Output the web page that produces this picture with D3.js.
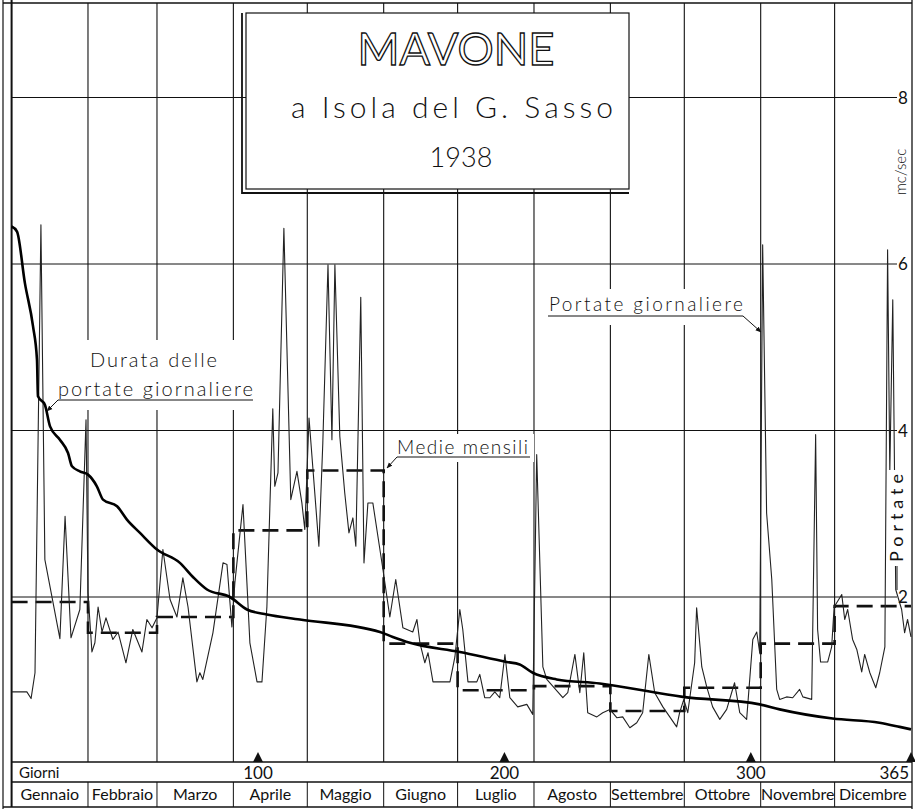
<!DOCTYPE html>
<html><head><meta charset="utf-8">
<script src="https://cdn.jsdelivr.net/npm/d3@7"></script>
<style>
html,body{margin:0;padding:0;background:#fff;}
svg{display:block;}
text{font-family:"Lato","Open Sans","DejaVu Sans",sans-serif;fill:#111;}
</style></head><body>
<svg id="c" width="915" height="809"></svg>
<script>
// ---------- DATA ----------
const monthNames = ["Gennaio","Febbraio","Marzo","Aprile","Maggio","Giugno","Luglio","Agosto","Settembre","Ottobre","Novembre","Dicembre"];
const monthStarts = [0,31,59,90,120,151,181,212,243,273,304,334,365];
const monthlyMeans = [1.94,1.57,1.76,2.80,3.52,1.44,0.88,0.93,0.63,0.91,1.44,1.89];
const dayTicks = [100,200,300,365];
const flowTicks = [2,4,6,8];
// daily discharge (day of year, m3/s) – vertices
const dailyFlow = [[0,0.86],[6.2,0.86],[7.9,0.78],[9.5,1.09],[11.9,6.47],[13.5,2.45],[19.6,1.50],[21.7,2.97],[24.1,1.51],[27.7,1.85],[30.2,4.13],[31.0,2.05],[32.6,1.34],[33.8,1.45],[35.1,1.88],[36.7,1.58],[38.3,1.75],[41.1,1.49],[43.2,1.58],[46.4,1.21],[49.2,1.61],[52.9,1.34],[54.9,1.73],[57.0,1.63],[59.0,1.75],[61.4,2.57],[64.3,1.97],[67.1,1.76],[69.5,2.23],[71.6,1.88],[75.2,0.98],[76.4,1.09],[77.6,1.01],[81.7,1.57],[85.8,2.41],[87.4,2.39],[89.4,1.64],[90.6,2.17],[93.9,3.11],[95.5,2.17],[96.7,1.45],[99.6,0.98],[101.6,0.98],[103.6,1.88],[106.0,4.26],[106.8,3.33],[108.1,3.49],[110.5,6.43],[113.3,3.17],[115.8,3.51],[117.8,3.13],[119.0,2.81],[120.7,4.15],[124.7,2.61],[126.3,3.85],[128.4,5.99],[130.0,3.89],[131.2,5.99],[133.2,3.93],[135.2,3.25],[136.9,2.77],[138.5,2.95],[139.7,2.61],[141.7,5.60],[143.0,2.41],[144.6,3.13],[146.6,3.13],[150.7,2.33],[153.5,1.76],[155.9,2.21],[158.8,1.63],[162.8,1.58],[164.5,1.73],[165.7,1.45],[167.7,1.21],[169.0,1.33],[171.0,0.98],[177.9,0.98],[179.9,1.28],[181.9,1.85],[183.1,1.61],[185.2,0.98],[188.8,0.98],[190.0,1.07],[192.0,0.79],[194.1,0.79],[196.1,0.86],[198.1,0.79],[200.2,1.31],[202.2,0.79],[205.4,0.68],[209.1,0.71],[211.5,0.59],[213.1,3.71],[215.6,1.16],[217.2,1.01],[223.7,0.79],[225.7,0.85],[228.6,1.31],[230.6,0.85],[232.2,1.33],[233.8,0.61],[237.5,0.56],[239.9,0.61],[242.8,0.65],[245.6,0.55],[248.0,0.56],[250.9,0.43],[253.7,0.49],[256.1,0.61],[258.6,1.31],[261.0,0.85],[264.3,0.68],[267.1,0.56],[269.9,0.44],[271.1,0.61],[272.8,0.77],[274.4,0.61],[277.2,1.21],[278.0,1.87],[280.1,1.16],[282.1,0.92],[284.5,0.68],[287.4,0.53],[290.2,0.65],[293.4,0.97],[295.5,0.61],[298.3,0.53],[300.8,1.49],[302.4,1.58],[303.6,1.33],[304.8,6.23],[306.4,3.01],[308.5,2.21],[310.5,0.89],[311.7,0.77],[314.5,0.80],[317.0,0.79],[319.8,0.89],[321.1,0.80],[324.7,0.77],[326.3,3.95],[327.1,1.61],[328.3,1.22],[331.2,1.22],[332.8,1.40],[333.8,1.88],[336.9,2.03],[338.1,1.73],[339.3,1.85],[341.3,1.49],[343.0,1.37],[345.0,1.10],[346.2,1.31],[348.3,1.09],[350.7,0.91],[352.3,1.09],[354.4,1.40],[355.5,6.17],[356.4,3.50],[357.6,5.57],[358.8,2.09],[361.2,1.85],[362.4,1.57],[363.6,1.73],[365,1.52]];
// flow-duration curve (days exceeded, m3/s)
const durationFlow = [[0,6.45],[2.2,6.39],[5.4,5.77],[8.7,5.25],[10.3,4.85],[10.7,4.41],[13.5,4.31],[15.6,4.05],[19.6,3.89],[22.9,3.73],[24.5,3.57],[27.7,3.51],[31,3.47],[34.6,3.33],[37.1,3.17],[42.8,3.09],[46.8,2.93],[52.1,2.77],[59,2.57],[68.3,2.41],[73.6,2.24],[79.3,2.09],[88.6,2.0],[95.5,1.85],[103.6,1.79],[117,1.73],[149.5,1.58],[154.7,1.52],[161.6,1.45],[181.9,1.34],[200.9,1.22],[206.2,1.19],[211.5,1.09],[221.2,1.01],[238.7,0.96],[243.6,0.94],[272.4,0.80],[303.6,0.71],[311.7,0.65],[333.2,0.54],[352.2,0.49],[360.4,0.44],[365,0.41]];

// ---------- CHART ----------
const svg = d3.select("#c");
const x = d3.scaleLinear().domain([0,365]).range([11.6,911]);
const y = d3.scaleLinear().domain([0,8]).range([763.5,97.5]);
const plotTop = 3, plotBottom = 762, rightEdge = 912;
const ink = "#111";

// frame
svg.append("line").attr("x1",3).attr("x2",3).attr("y1",0).attr("y2",809).attr("stroke",ink).attr("stroke-width",1.2);
svg.append("line").attr("x1",x(0)).attr("x2",x(0)).attr("y1",0).attr("y2",807).attr("stroke",ink).attr("stroke-width",2);
svg.append("line").attr("x1",rightEdge).attr("x2",rightEdge).attr("y1",0).attr("y2",809).attr("stroke",ink).attr("stroke-width",1.3);
svg.append("line").attr("x1",3).attr("x2",rightEdge).attr("y1",plotTop).attr("y2",plotTop).attr("stroke",ink).attr("stroke-width",1.3);

// horizontal grid
svg.selectAll(".hg").data(flowTicks).enter().append("line")
  .attr("x1",x(0)).attr("x2",897).attr("y1",d=>y(d)).attr("y2",d=>y(d))
  .attr("stroke",ink).attr("stroke-width",1);
// vertical month grid
svg.selectAll(".vg").data(monthStarts.slice(1,12)).enter().append("line")
  .attr("x1",d=>x(d)).attr("x2",d=>x(d)).attr("y1",plotTop).attr("y2",plotBottom)
  .attr("stroke",ink).attr("stroke-width",1.1);

// label backgrounds (white patches interrupting the grid)
const bg = [[55,340,200,70],[392,434,142,28],[545,289,202,36]];
svg.selectAll(".bg").data(bg).enter().append("rect")
  .attr("x",d=>d[0]).attr("y",d=>d[1]).attr("width",d=>d[2]).attr("height",d=>d[3]).attr("fill","#fff");

// monthly means (dashed step)
const stepPts = monthlyMeans.map((m,i)=>[monthStarts[i],m]).concat([[365,monthlyMeans[11]]]);
svg.append("path").datum(stepPts)
  .attr("d",d3.line().x(d=>x(d[0])).y(d=>y(d[1])).curve(d3.curveStepAfter))
  .attr("fill","none").attr("stroke",ink).attr("stroke-width",2.6).attr("stroke-dasharray","16,8");

// daily discharge
svg.append("path").datum(dailyFlow)
  .attr("d",d3.line().x(d=>x(d[0])).y(d=>y(d[1])))
  .attr("fill","none").attr("stroke","#222").attr("stroke-width",1.1).attr("stroke-linejoin","round");

// duration curve
svg.append("path").datum(durationFlow)
  .attr("d",d3.line().x(d=>x(d[0])).y(d=>y(d[1])).curve(d3.curveMonotoneX))
  .attr("fill","none").attr("stroke","#000").attr("stroke-width",2.6);

// title box
const tb = svg.append("g");
tb.append("rect").attr("x",246).attr("y",13).attr("width",383).attr("height",176).attr("fill","#fff").attr("stroke",ink).attr("stroke-width",1.2);
tb.append("path").attr("d","M242,13 V193 H629").attr("fill","none").attr("stroke",ink).attr("stroke-width",1.8);
tb.append("text").attr("x",456).attr("y",65).attr("text-anchor","middle").attr("font-size",45)
  .attr("textLength",197).attr("lengthAdjust","spacingAndGlyphs")
  .style("fill","#fff").attr("stroke","#111").attr("stroke-width",1.3).text("MAVONE");
tb.append("text").attr("x",452).attr("y",118).attr("text-anchor","middle").attr("font-size",30).attr("font-weight",300)
  .attr("textLength",322).attr("lengthAdjust","spacing").text("a Isola del G. Sasso");
tb.append("text").attr("x",461).attr("y",167).attr("text-anchor","middle").attr("font-size",27).attr("font-weight",300)
  .attr("textLength",63).attr("lengthAdjust","spacing").text("1938");

// annotations
const marker = svg.append("defs").append("marker").attr("id","arr").attr("viewBox","0 0 10 10")
  .attr("refX",9).attr("refY",5).attr("markerWidth",6).attr("markerHeight",6).attr("orient","auto");
marker.append("path").attr("d","M0,1 L10,5 L0,9 z").attr("fill",ink);
function label(txt,xx,yy,size,len){
  svg.append("text").attr("x",xx).attr("y",yy).attr("font-size",size).attr("font-weight",300)
    .attr("textLength",len).attr("lengthAdjust","spacing").text(txt);
}
label("Durata delle",90,367,20,127);
label("portate giornaliere",58,396,20,195);
svg.append("path").attr("d","M253,400 H58 L47,411").attr("fill","none").attr("stroke",ink).attr("stroke-width",1).attr("marker-end","url(#arr)");
label("Medie mensili",397,454,19,131);
svg.append("path").attr("d","M530,457 H397 L387,468").attr("fill","none").attr("stroke",ink).attr("stroke-width",1).attr("marker-end","url(#arr)");
label("Portate giornaliere",549,311,19,194);
svg.append("path").attr("d","M548,316 H743 L761,332").attr("fill","none").attr("stroke",ink).attr("stroke-width",1).attr("marker-end","url(#arr)");

// right axis labels
svg.selectAll(".rl").data(flowTicks).enter().append("text")
  .attr("x",903).attr("y",d=>y(d)+6).attr("text-anchor","middle").attr("font-size",17).text(d=>d);
svg.append("text").attr("transform","translate(906,172) rotate(-90)").attr("text-anchor","middle")
  .attr("font-size",15).attr("font-weight",300).text("mc/sec");
svg.append("rect").attr("x",889).attr("y",470).attr("width",16).attr("height",96).attr("fill","#fff");
svg.append("text").attr("transform","translate(903,518) rotate(-90)").attr("text-anchor","middle")
  .attr("font-size",18).attr("textLength",88).attr("lengthAdjust","spacing").text("Portate");
svg.append("line").attr("x1",897).attr("x2",897).attr("y1",566).attr("y2",590).attr("stroke",ink).attr("stroke-width",1);

// bottom axis rows
svg.append("line").attr("x1",x(0)).attr("x2",rightEdge).attr("y1",plotBottom).attr("y2",plotBottom).attr("stroke",ink).attr("stroke-width",1.3);
svg.append("line").attr("x1",x(0)).attr("x2",rightEdge).attr("y1",782).attr("y2",782).attr("stroke",ink).attr("stroke-width",1.3);
svg.append("line").attr("x1",3).attr("x2",rightEdge).attr("y1",807).attr("y2",807).attr("stroke",ink).attr("stroke-width",1.3);
svg.selectAll(".ms").data(monthStarts.slice(1,12)).enter().append("line")
  .attr("x1",d=>x(d)).attr("x2",d=>x(d)).attr("y1",782).attr("y2",807).attr("stroke",ink).attr("stroke-width",1);
svg.selectAll(".mn").data(monthNames).enter().append("text")
  .attr("x",(d,i)=>(x(monthStarts[i])+x(monthStarts[i+1]))/2).attr("y",800)
  .attr("text-anchor","middle").attr("font-size",16).text(d=>d);
svg.append("text").attr("x",19).attr("y",778).attr("font-size",15).text("Giorni");
svg.selectAll(".tri").data(dayTicks).enter().append("path")
  .attr("d",d=>`M${x(d)-5},${plotBottom} L${x(d)},${plotBottom-10} L${x(d)+5},${plotBottom} Z`).attr("fill",ink);
svg.selectAll(".dl").data(dayTicks).enter().append("text")
  .attr("x",d=>d===365? x(d)-2 : x(d)).attr("y",779)
  .attr("text-anchor",d=>d===365?"end":"middle").attr("font-size",17).text(d=>d);
</script>
</body></html>
